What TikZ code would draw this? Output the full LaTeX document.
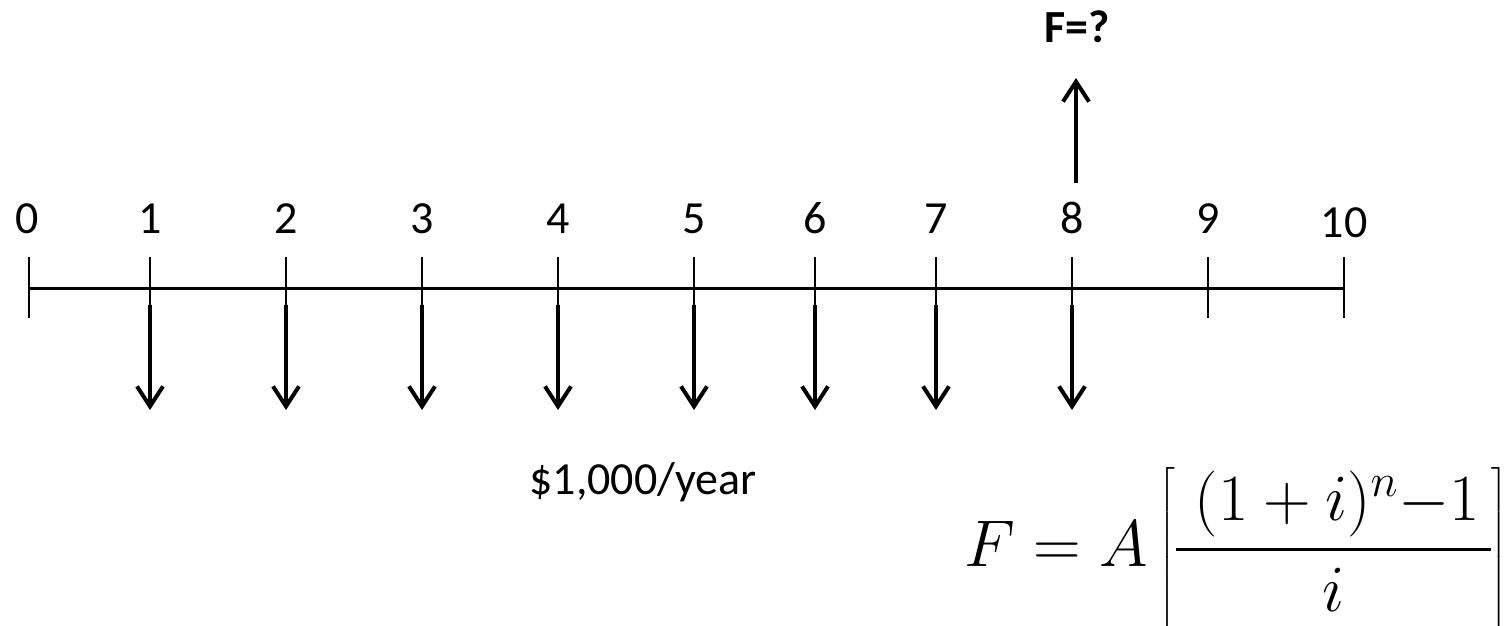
\RequirePackage{fix-cm}
\documentclass[tikz,border=0pt]{standalone}
\usepackage{amsmath}
\usepackage[no-math]{fontspec}
\setmainfont{Carlito}
\usetikzlibrary{arrows.meta}
\newcommand\lblfont{\fontsize{46}{52}\selectfont}
\begin{document}
\begin{tikzpicture}[x=1pt,y=-1pt,
  axisline/.style={line width=3pt},
  tickline/.style={line width=1.3pt},
  flow/.style={line width=4pt,-{Straight Barb[length=20pt,width=26pt]}},
  lbl/.style={anchor=base,inner sep=0pt,font=\lblfont}]
\useasboundingbox (0,0) rectangle (1512,626);
\foreach \x [count=\i from 0] in {29,150,286,422,558,694,815,936,1072,1208,1344}{
  \coordinate (t\i) at (\x,288);
  \coordinate (tu\i) at (\x,257);
  \coordinate (td\i) at (\x,318);
}
\draw[axisline] (t0) -- (t10);
\foreach \i in {0,...,10}{ \draw[tickline] (tu\i) -- (td\i); }
\foreach \x [count=\i from 0] in {27.5,150,286,422,558,694,815,936,1072,1208}{
  \node[lbl] (l\i) at (\x,233) {\i};
}
\node[lbl] (l10) at (1344,237) {10};
\foreach \x [count=\i] in {150,286,422,558,694,815,936,1072}{
  \coordinate (as\i) at (\x,305);
  \coordinate (ae\i) at (\x,410);
  \draw[flow] (as\i) -- (ae\i);
}
\coordinate (us) at (1076,183);
\coordinate (ue) at (1076,78);
\draw[flow] (us) -- (ue);
\node[lbl,font=\lblfont\bfseries] (fq) at (1077,43) {F=?};
\node[lbl] (ann) at (643,494) {\$1,000/year};
\node[anchor=base west,inner sep=0pt] (eq) at (964,566)
  {\fontsize{66}{74}\selectfont $\displaystyle F = A\,\biggl[\genfrac{}{}{3.5pt}{0}{\;(1+i)^{n}{-}1\,}{i}\biggr]$};
\end{tikzpicture}
\end{document}
